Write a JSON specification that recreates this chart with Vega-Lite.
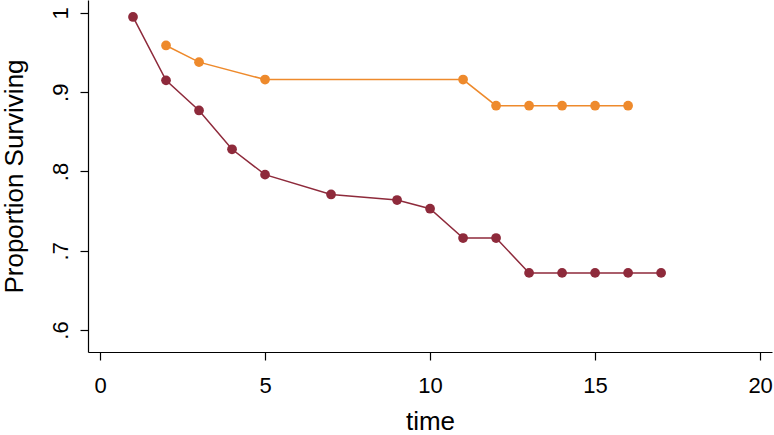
{
  "$schema": "https://vega.github.io/schema/vega-lite/v6.json",
  "width": 684,
  "height": 352,
  "autosize": "none",
  "padding": {"left": 88, "top": 0, "right": 2, "bottom": 83},
  "background": "white",
  "config": {
    "view": {"stroke": null},
    "axis": {"grid": false, "domainColor": "black", "tickColor": "black", "labelColor": "black", "titleColor": "black", "labelFont": "Liberation Sans", "titleFont": "Liberation Sans", "titleFontWeight": "normal", "domainWidth": 1.2, "tickWidth": 1.2}
  },
  "data": {"values": [
    {"time": 1, "p": 0.995, "g": "A"},
    {"time": 2, "p": 0.915, "g": "A"},
    {"time": 3, "p": 0.877, "g": "A"},
    {"time": 4, "p": 0.828, "g": "A"},
    {"time": 5, "p": 0.796, "g": "A"},
    {"time": 7, "p": 0.771, "g": "A"},
    {"time": 9, "p": 0.764, "g": "A"},
    {"time": 10, "p": 0.753, "g": "A"},
    {"time": 11, "p": 0.716, "g": "A"},
    {"time": 12, "p": 0.716, "g": "A"},
    {"time": 13, "p": 0.672, "g": "A"},
    {"time": 14, "p": 0.672, "g": "A"},
    {"time": 15, "p": 0.672, "g": "A"},
    {"time": 16, "p": 0.672, "g": "A"},
    {"time": 17, "p": 0.672, "g": "A"},
    {"time": 2, "p": 0.959, "g": "B"},
    {"time": 3, "p": 0.938, "g": "B"},
    {"time": 5, "p": 0.916, "g": "B"},
    {"time": 11, "p": 0.916, "g": "B"},
    {"time": 12, "p": 0.883, "g": "B"},
    {"time": 13, "p": 0.883, "g": "B"},
    {"time": 14, "p": 0.883, "g": "B"},
    {"time": 15, "p": 0.883, "g": "B"},
    {"time": 16, "p": 0.883, "g": "B"}
  ]},
  "encoding": {
    "x": {"field": "time", "type": "quantitative",
      "scale": {"domain": [-0.364, 20.36], "nice": false, "zero": false},
      "axis": {"values": [0, 5, 10, 15, 20], "title": "time", "labelFontSize": 22, "titleFontSize": 26, "tickSize": 8, "labelPadding": 15, "titlePadding": 12}},
    "y": {"field": "p", "type": "quantitative",
      "scale": {"domain": [0.5722, 1.0164], "nice": false, "zero": false},
      "axis": {"values": [0.6, 0.7, 0.8, 0.9, 1], "title": "Proportion Surviving", "labelExpr": "datum.value >= 0.999 ? '1' : '.' + format(datum.value * 10, '.0f')", "labelAngle": -90, "labelAlign": "center", "labelBaseline": "bottom", "labelFontSize": 22, "titleFontSize": 26, "tickSize": 8, "labelPadding": 8, "titlePadding": 22}},
    "color": {"field": "g", "type": "nominal", "scale": {"domain": ["A", "B"], "range": ["#8E2A3B", "#EE8A2C"]}, "legend": null}
  },
  "layer": [
    {"mark": {"type": "line", "strokeWidth": 1.5}},
    {"mark": {"type": "point", "filled": true, "opacity": 1, "size": 95}}
  ]
}
